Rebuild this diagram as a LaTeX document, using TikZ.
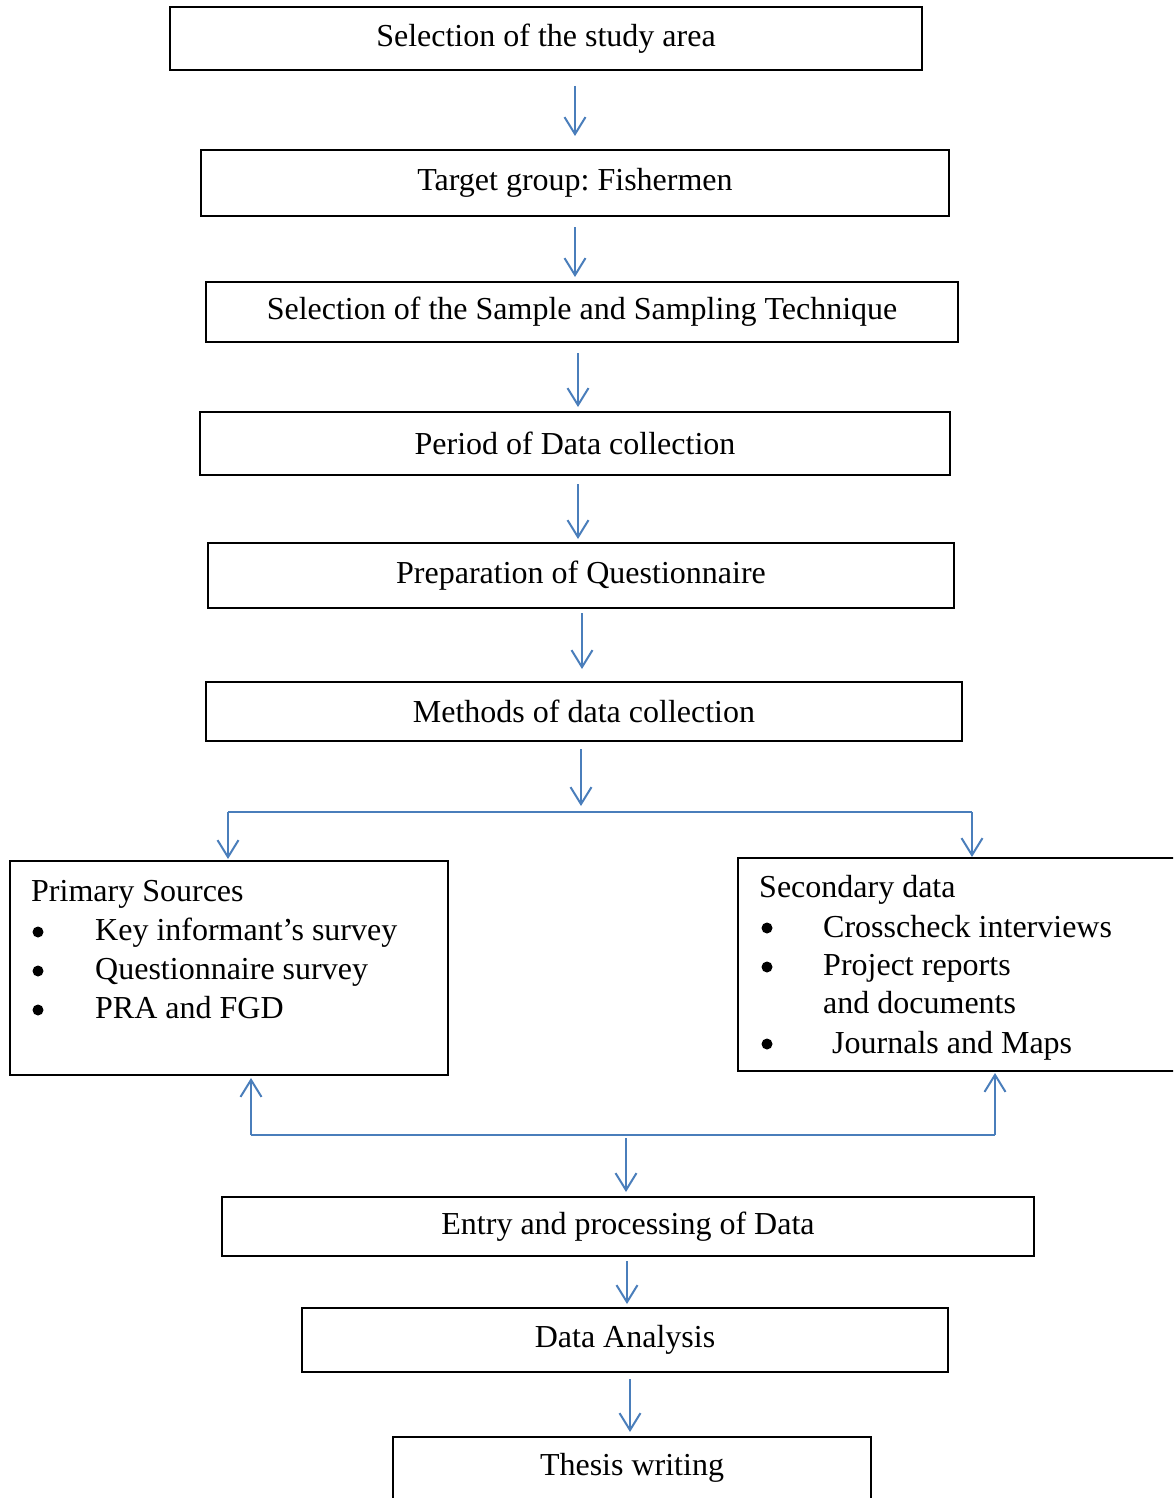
\documentclass[tikz,border=0pt]{standalone}
\usepackage{fontspec}
\setmainfont{Liberation Serif}
\usetikzlibrary{arrows.meta}
\definecolor{arrowblue}{RGB}{74,126,187}
\frenchspacing
\begin{document}
\begin{tikzpicture}[x=1pt,y=-1pt,
  box/.style={draw=black,line width=2pt,inner sep=0pt,font=\fontsize{32}{38}\selectfont},
  txt/.style={anchor=base west,inner sep=0pt,font=\fontsize{32}{38}\selectfont},
  bul/.style={circle,fill=black,inner sep=0pt,minimum size=11pt},
  conn/.style={draw=arrowblue,line width=2pt},
  arr/.style={conn,-{Straight Barb[length=17pt,width=21pt]}}]
\useasboundingbox (0,0) rectangle (1173,1498);
\clip (0,0) rectangle (1173,1498);
\fill[white] (0,0) rectangle (1173,1498);

% main boxes
\node[box,minimum width=752pt,minimum height=63pt] (b1) at (546,38.5) {Selection of the study area};
\node[box,minimum width=748pt,minimum height=66pt] (b2) at (575,183) {Target group: Fishermen};
\node[box,minimum width=752pt,minimum height=60pt] (b3) at (582,312) {Selection of the Sample and Sampling Technique};
\node[box,minimum width=750pt,minimum height=63pt] (b4) at (575,443.5) {Period of Data collection};
\node[box,minimum width=746pt,minimum height=65pt] (b5) at (581,575.5) {Preparation of Questionnaire};
\node[box,minimum width=756pt,minimum height=59pt] (b6) at (584,711.5) {Methods of data collection};
\node[box,minimum width=438pt,minimum height=214pt] (prim) at (229,968) {};
\node[box,minimum width=442pt,minimum height=213pt] (sec) at (959,964.5) {};
\node[box,minimum width=812pt,minimum height=59pt] (entry) at (628,1226.5) {Entry and processing of Data};
\node[box,minimum width=646pt,minimum height=64pt] (ana) at (625,1340) {Data Analysis};
\node[box,minimum width=478pt,minimum height=62pt] (thesis) at (632,1468) {Thesis writing};

% primary list
\node[txt] (p0) at (31,901) {Primary Sources};
\node[bul] (pb1) at (38,932) {};
\node[txt] (p1) at (95,940) {Key informant’s survey};
\node[bul] (pb2) at (38,971) {};
\node[txt] (p2) at (95,979) {Questionnaire survey};
\node[bul] (pb3) at (38,1010) {};
\node[txt] (p3) at (95,1018) {PRA and FGD};

% secondary list
\node[txt] (s0) at (759,897) {Secondary data};
\node[bul] (sb1) at (767,928) {};
\node[txt] (s1) at (823,937) {Crosscheck interviews};
\node[bul] (sb2) at (767,967) {};
\node[txt] (s2) at (823,975) {Project reports};
\node[txt] (s3) at (823,1013) {and documents};
\node[bul] (sb3) at (767,1044) {};
\node[txt] (s4) at (832,1053) {Journals and Maps};

% vertical arrows
\draw[arr,shorten <=15pt,shorten >=13pt] ([xshift=29pt]b1.south) -- (b2.north);
\draw[arr,shorten <=10pt,shorten >=4pt] (b2.south) -- ([xshift=-7pt]b3.north);
\draw[arr,shorten <=10pt,shorten >=4pt] ([xshift=-4pt]b3.south) -- ([xshift=3pt]b4.north);
\draw[arr,shorten <=8pt,shorten >=3pt] ([xshift=3pt]b4.south) -- ([xshift=-3pt]b5.north);
\draw[arr,shorten <=4pt,shorten >=12pt] ([xshift=1pt]b5.south) -- ([xshift=-2pt]b6.north);

% branch
\coordinate (t1) at (581,806);
\coordinate (hl) at (228,812);
\coordinate (hr) at (972,812);
\draw[arr,shorten <=7pt] ([xshift=-3pt]b6.south) -- (t1);
\draw[conn] (hl) -- (hr);
\draw[arr,shorten >=1pt] (hl) -- (prim.north -| hl);
\draw[arr] (hr) -- (sec.north -| hr);

% merge
\coordinate (bl) at (251,1135);
\coordinate (br) at (995,1135);
\coordinate (bm) at (626,1138);
\draw[conn] (bl) -- (br);
\draw[arr,shorten >=2pt] (bl) -- (prim.south -| bl);
\draw[arr,shorten >=1pt] (br) -- (sec.south -| br);
\draw[arr,shorten >=4pt] (bm) -- ([xshift=-2pt]entry.north);

\draw[arr,shorten <=4pt,shorten >=3pt] ([xshift=-1pt]entry.south) -- ([xshift=2pt]ana.north);
\draw[arr,shorten <=6pt,shorten >=4pt] ([xshift=5pt]ana.south) -- ([xshift=-2pt]thesis.north);
\end{tikzpicture}
\end{document}
